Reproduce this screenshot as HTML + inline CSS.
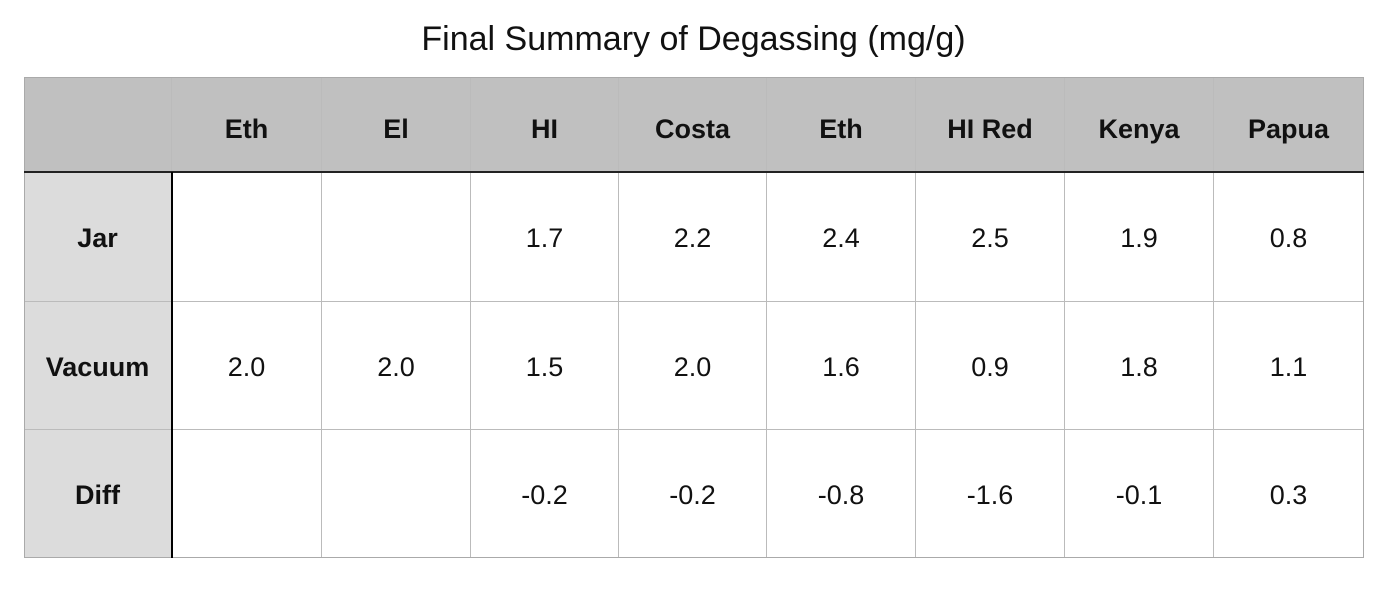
<!DOCTYPE html>
<html><head><meta charset="utf-8"><style>
body{margin:0;width:1400px;height:589px;background:#fff;font-family:"Liberation Sans",Arial,sans-serif;position:relative;overflow:hidden}
#title{position:absolute;left:0;width:1387px;top:20px;text-align:center;font-size:34px;color:#111}
.c{position:absolute;box-sizing:border-box;display:flex;align-items:center;justify-content:center;font-size:27px;color:#111;border-right:1px solid #bbb;border-bottom:1px solid #bbb;padding-top:4px}
.h{background:#c0c0c0;font-weight:bold;padding-top:10px}
.r{background:#dcdcdc;font-weight:bold}
#vline{position:absolute;left:171px;top:172px;width:2px;height:386px;background:#000}
#hline{position:absolute;left:24px;top:171px;width:1340px;height:2px;background:#222}
#frame{position:absolute;left:24px;top:77px;width:1340px;height:481px;box-sizing:border-box;border:1px solid #aaa;pointer-events:none}
</style></head><body>
<div id="title">Final Summary of Degassing (mg/g)</div>
<div id="tbl"></div>
<div id="frame"></div>
<div id="hline"></div>
<div id="vline"></div>
<script>
const columns=["Eth","El","HI","Costa","Eth","HI Red","Kenya","Papua"];
const rowLabels=["Jar","Vacuum","Diff"];
const jar=["","","1.7","2.2","2.4","2.5","1.9","0.8"];
const vacuum=["2.0","2.0","1.5","2.0","1.6","0.9","1.8","1.1"];
const diff=["","","-0.2","-0.2","-0.8","-1.6","-0.1","0.3"];
const rows=[jar,vacuum,diff];
const xs=[24,172,322,471,619,767,916,1065,1214,1364];
const ys=[77,172,302,430,558];
const t=document.getElementById('tbl');
function cell(x0,x1,y0,y1,txt,cls){
  const d=document.createElement('div');
  d.className='c '+cls;
  d.style.left=x0+'px';d.style.top=y0+'px';d.style.width=(x1-x0)+'px';d.style.height=(y1-y0)+'px';
  d.textContent=txt;t.appendChild(d);return d;
}
let e=cell(xs[0],xs[1],ys[0],ys[1],'','h');


columns.forEach((c,i)=>{
  const d=cell(xs[i+1],xs[i+2],ys[0],ys[1],c,'h');
  
  
});
rowLabels.forEach((r,j)=>{
  const d=cell(xs[0],xs[1],ys[j+1],ys[j+2],r,'r');
  
  
  rows[j].forEach((v,i)=>{
    const c=cell(xs[i+1],xs[i+2],ys[j+1],ys[j+2],v,'');
    
    
  });
});
</script>
</body></html>
